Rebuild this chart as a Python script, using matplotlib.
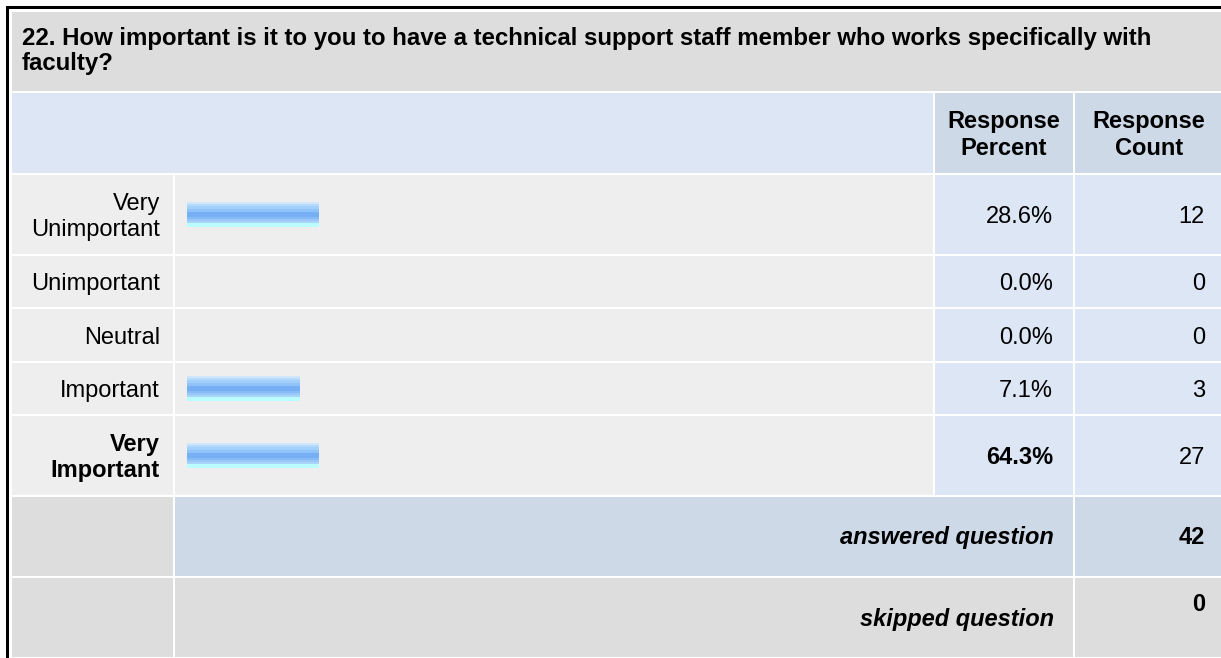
import numpy as np
import matplotlib
matplotlib.use("Agg")
import matplotlib.pyplot as plt
from matplotlib.patches import Rectangle
from matplotlib.colors import to_rgb

plt.rcParams['font.family'] = ['Liberation Sans', 'DejaVu Sans']

title = ["22. How important is it to you to have a technical support staff member who works specifically with",
         "faculty?"]
labels = [["Very", "Unimportant"], ["Unimportant"], ["Neutral"], ["Important"], ["Very", "Important"]]
percents = ["28.6%", "0.0%", "0.0%", "7.1%", "64.3%"]
counts = [12, 0, 0, 3, 27]
bold_row = [False, False, False, False, True]
# bar lengths as drawn in the picture (px)
bar_len = [132, 0, 0, 113, 132]
answered = 42
skipped = 0

W, H = 1221, 658
fig = plt.figure(figsize=(W / 100, H / 100), dpi=100)
ax = fig.add_axes([0, 0, 1, 1])

GREY = "#dddddd"
LIGHT = "#eeeeee"
BLUE = "#dce6f4"
BLUE2 = "#cdd9e6"
FS = 17


def cell(x0, x1, y0, y1, color):
    ax.add_patch(Rectangle((x0, y0), x1 - x0, y1 - y0, facecolor=color, edgecolor="none"))


# outer black frame (top and left)
ax.add_patch(Rectangle((6, 6), W - 6, 3, facecolor="black", edgecolor="none"))
ax.add_patch(Rectangle((6, 6), 3, H - 6, facecolor="black", edgecolor="none"))

# title
cell(12, W, 12, 91, GREY)
ax.text(22, 45, title[0], fontsize=17.3, fontweight="bold", va="baseline", ha="left")
ax.text(22, 70, title[1], fontsize=17.3, fontweight="bold", va="baseline", ha="left")

# header
cell(12, 933, 93, 172.5, BLUE)
cell(935, 1073, 93, 172.5, BLUE2)
cell(1075, W, 93, 172.5, BLUE2)
for cx, words in [(1004, ["Response", "Percent"]), (1149, ["Response", "Count"])]:
    ax.text(cx, 128, words[0], fontsize=FS, fontweight="bold", ha="center", va="baseline")
    ax.text(cx, 155, words[1], fontsize=FS, fontweight="bold", ha="center", va="baseline")

# rows
row_top = [175, 256, 309, 363, 416]
row_bot = [254, 307, 361, 414, 495]
grad = ["#d0e6fa"] * 2 + ["#b5dafc"] * 2 + ["#a3cffb"] * 3 + ["#8fc3f9"] * 3 + \
       ["#76aff4"] * 5 + ["#86bbf6"] * 2 + ["#99c8f8"] * 2 + ["#aad3fa"] * 2 + ["#b9fdff"] * 4
grad_img = np.array([[to_rgb(c)] for c in grad])

for i in range(len(labels)):
    t, b = row_top[i], row_bot[i]
    c = (t + b) / 2
    cell(12, 172.5, t, b, LIGHT)
    cell(175, 933, t, b, LIGHT)
    cell(935, 1073, t, b, BLUE)
    cell(1075, W, t, b, BLUE)
    w = "bold" if bold_row[i] else "normal"
    if len(labels[i]) == 1:
        ax.text(160, c + 8.5, labels[i][0], fontsize=FS, fontweight=w, ha="right", va="baseline")
    else:
        ax.text(160, c - 4.5, labels[i][0], fontsize=FS, fontweight=w, ha="right", va="baseline")
        ax.text(160, c + 21.5, labels[i][1], fontsize=FS, fontweight=w, ha="right", va="baseline")
    if bar_len[i] > 0:
        ax.imshow(grad_img, extent=(187, 187 + bar_len[i], c + 12.5, c - 12.5),
                  origin="upper", aspect="auto", interpolation="nearest", zorder=3)
    ax.text(1053, c + 8.5, percents[i], fontsize=FS, fontweight=w, ha="right", va="baseline")
    ax.text(1205, c + 8.5, str(counts[i]), fontsize=FS, ha="right", va="baseline")

# answered / skipped
cell(12, 172.5, 497, 576, GREY)
cell(175, 1073, 497, 576, BLUE2)
cell(1075, W, 497, 576, BLUE2)
ax.text(1054, 544, "answered question", fontsize=FS, fontweight="bold", style="italic",
        ha="right", va="baseline")
ax.text(1205, 544, str(answered), fontsize=FS, fontweight="bold", ha="right", va="baseline")

cell(12, 172.5, 578, 657, GREY)
cell(175, 1073, 578, 657, GREY)
cell(1075, W, 578, 657, GREY)
ax.text(1054, 626, "skipped question", fontsize=FS, fontweight="bold", style="italic",
        ha="right", va="baseline")
ax.text(1205, 611, str(skipped), fontsize=FS, fontweight="bold", ha="right", va="baseline")

ax.set_xlim(0, W)
ax.set_ylim(H, 0)
ax.axis("off")
fig.savefig("out.png", dpi=100, facecolor="white")
